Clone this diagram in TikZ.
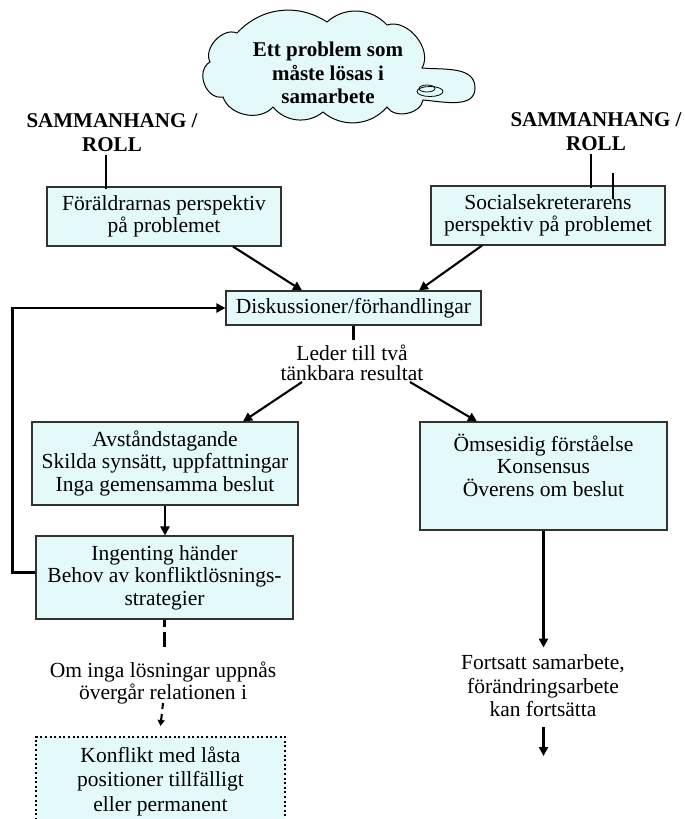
\documentclass[tikz,border=0pt]{standalone}
\usepackage{fontspec}
\setmainfont{Liberation Serif}
\usetikzlibrary{arrows.meta,calc}
\definecolor{boxfill}{RGB}{228,249,250}
\definecolor{boxline}{RGB}{50,50,50}
\begin{document}
\begin{tikzpicture}[x=1pt,y=1pt,
  txt/.style={font=\fontsize{21.5}{22.5}\selectfont, align=center, inner sep=0pt},
  bx/.style={txt, draw=boxline, line width=1.1pt, fill=boxfill},
  dotbox/.style={txt, draw=black, line width=2pt, dash pattern=on 2pt off 2.6pt, fill=boxfill},
  conn/.style={line width=2.1pt},
  arr/.style={conn, -{Triangle[length=9pt,width=9pt]}},
  dashconn/.style={line width=2.1pt, dash pattern=on 7pt off 5pt on 15pt off 5pt},
  cloudsty/.style={draw=black, line width=1pt, fill=boxfill},
  boldtxt/.style={txt, font=\bfseries\fontsize{21}{24}\selectfont}]
\useasboundingbox (0,0) rectangle (685,-819);
\fill[white] (0,0) rectangle (685,-819);
\clip (0,0) rectangle (685,-819);

% cloud
\draw[cloudsty] (223,-97) to[bend left=80, looseness=1.2] (210,-62)
  to[bend left=70] (237,-33)
  to[bend left=40] (327,-22)
  to[bend left=45] (387,-25)
  to[bend left=70] (422,-68)
  to[out=-5,in=90] (475,-88)
  to[out=-90,in=-5] (423,-100)
  to[bend left=70] (387,-107)
  to[bend left=45] (323,-112)
  to[bend left=45] (273,-107)
  to[bend left=60] (223,-97) -- cycle;
\draw[line width=0.8pt] (430,-91.5) ellipse [x radius=13, y radius=5];
\draw[line width=0.8pt] (427,-88.5) ellipse [x radius=8, y radius=3.5];
\node[boldtxt, font=\bfseries\fontsize{21}{23.5}\selectfont] (Q) at (328,-73) {Ett problem som\\måste lösas i\\samarbete};

% labels
\node[boldtxt] (L1) at (112,-133) {SAMMANHANG /\\ROLL};
\node[boldtxt] (L2) at (596,-132) {SAMMANHANG /\\ROLL};

% boxes
\node[bx, minimum width=234, minimum height=59] (A) at (164,-216.5) {Föräldrarnas perspektiv\\på problemet};
\node[bx, minimum width=234, minimum height=59] (B) at (548,-215.5) {Socialsekreterarens\\perspektiv på problemet};
\node[bx, minimum width=255, minimum height=34] (C) at (353.5,-308) {Diskussioner/förhandlingar};
\node[bx, minimum width=266, minimum height=83] (D) at (165,-463.5) {Avståndstagande\\Skilda synsätt, uppfattningar\\Inga gemensamma beslut};
\node[bx, minimum width=247, minimum height=108] (E) at (543.5,-476) {};
\node[txt] (Et) at (543.5,-465) {Ömsesidig förståelse\\Konsensus\\Överens om beslut};
\node[bx, minimum width=257, minimum height=83] (F) at (164.5,-577.5) {Ingenting händer\\Behov av konfliktlösnings-\\strategier};
\node[dotbox, font=\fontsize{21.5}{24.5}\selectfont, minimum width=249, minimum height=88] (G) at (160.5,-781) {Konflikt med låsta\\positioner tillfälligt\\eller permanent};

% free texts
\node[txt, font=\fontsize{21.5}{20.5}\selectfont] (T1) at (352,-363) {Leder till två\\tänkbara resultat};
\node[txt, font=\fontsize{21.5}{23.5}\selectfont] (T2) at (543,-686) {Fortsatt samarbete,\\förändringsarbete\\kan fortsätta};
\node[txt, font=\fontsize{21.5}{21.5}\selectfont] (T3) at (163,-683) {Om inga lösningar uppnås\\övergår relationen i};
\coordinate (Tend) at (543.5,-756);

% connectors
\draw[conn] ([shift={(-6,-3)}]L1.south) -- ([shift={(-6,-3)}]L1.south |- A.north);
\draw[conn] ([shift={(-5,-3)}]L2.south) -- ([shift={(-5,-3)}]L2.south |- B.north);
\draw[line width=1.6pt] ([shift={(65,12)}]B.north) -- ([shift={(65,-14)}]B.north);
\draw[arr] ([xshift=69pt]A.south) -- ([xshift=-51.5pt]C.north);
\draw[arr] ([xshift=-66pt]B.south) -- ([xshift=65.5pt]C.north);
\draw[conn] (C.south) -- ++(0,-14);
\draw[arr] ($(T1.center)+(-50,-19)$) -- ([xshift=78pt]D.north);
\draw[arr] ($(T1.center)+(58,-19)$) -- ([xshift=-66.5pt]E.north);
\draw[arr] (D.south) -- (D.south |- F.north);
\draw[arr] ([yshift=5pt]F.west) -- ++(-23,0) |- (C.west);
\draw[arr] (E.south) -- ++(0,-117);
\draw[arr] ($(T2.center)+(0.5,-41)$) -- (Tend);
\draw[dashconn] (F.south) -- ++(0,-29);
\draw[line width=2.1pt, dash pattern=on 6pt off 5pt, -{Triangle[length=6pt,width=7pt]}] ($(T3.center)+(0,-20)$) -- ([yshift=10pt]G.north);
\end{tikzpicture}
\end{document}
